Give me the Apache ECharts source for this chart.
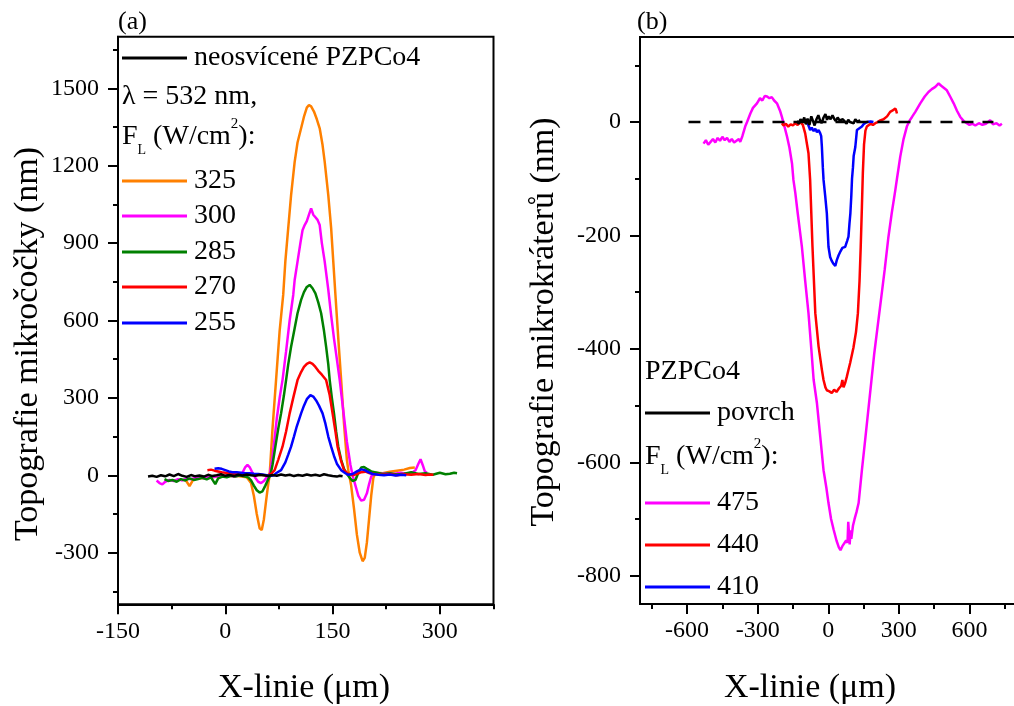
<!DOCTYPE html>
<html>
<head>
<meta charset="utf-8">
<script src="https://cdn.jsdelivr.net/npm/echarts@6/dist/echarts.min.js"></script>
<style>
  html, body { margin: 0; padding: 0; background: #fff; }
  #chart { width: 1014px; height: 706px; }
</style>
</head>
<body>
<div id="chart"></div>
<script>
// ---------- panel (a): microlens topography, x in µm, height in nm ----------
const aLegendLabels = ['325', '300', '285', '270', '255'];
const aColors = ['#FF8000', '#FF00FF', '#008000', '#FF0000', '#0000FF'];

const aUnexposed = [[-108,-5],[-102,-2],[-96,-6],[-90,0],[-84,-4],[-78,3],[-72,-3],[-66,5],[-60,-2],[-54,-6],[-48,1],[-42,-4],[-36,-1],[-30,-5],[-24,2],[-18,-3],[-12,0],[-6,4],[0,-2],[6,1],[12,-3],[18,2],[24,-1],[30,3],[36,0],[42,-2],[48,2],[54,0],[60,-3],[66,1],[72,-2],[78,3],[84,-1],[90,2],[96,-3],[102,1],[108,-2],[114,3],[120,-1],[126,2],[132,-2],[138,4],[144,0],[150,-3],[156,-5],[160,-2],[164,-4]];

const a325 = [[-55,-20],[-50,-42],[-45,-18],[-40,-12],[-30,-10],[-20,-8],[-10,-5],[0,-3],[10,-2],[20,-4],[30,-8],[36,-30],[40,-80],[44,-150],[48,-205],[51,-212],[54,-170],[57,-100],[60,-35],[62,0],[66,180],[71,370],[76,560],[81,700],[84,830],[88,958],[92,1086],[97,1215],[101,1290],[106,1345],[110,1390],[114,1425],[117,1435],[120,1430],[124,1410],[128,1380],[132,1345],[136,1280],[139,1215],[144,1086],[148,958],[151,828],[154,699],[158,530],[162,369],[166,200],[170,60],[172,20],[176,-40],[180,-130],[184,-230],[188,-300],[192,-333],[195,-320],[198,-260],[201,-170],[204,-80],[207,-10],[210,10],[220,8],[230,14],[240,18],[250,22],[258,28],[265,30]];

const a300 = [[-96,-20],[-92,-30],[-88,-35],[-84,-25],[-78,-18],[-72,-22],[-66,-15],[-60,-20],[-54,-12],[-48,-15],[-42,-10],[-36,-8],[-30,-12],[-24,-5],[-18,-8],[-12,-4],[-6,-6],[0,-3],[6,0],[12,-5],[18,-2],[24,10],[28,32],[31,40],[34,32],[38,10],[42,-10],[46,-25],[50,-30],[54,-22],[58,-8],[62,0],[66,70],[72,220],[76,300],[80,369],[85,480],[90,600],[95,699],[97,757],[101,828],[105,900],[108,950],[111,970],[114,985],[117,1010],[120,1035],[123,1010],[126,1000],[129,990],[132,970],[135,900],[139,828],[144,720],[148,620],[152,530],[156,450],[160,369],[165,250],[170,130],[175,40],[178,0],[182,-40],[186,-80],[190,-98],[194,-95],[198,-70],[201,-35],[204,-5],[208,8],[215,5],[225,8],[235,5],[245,10],[255,6],[262,12],[266,20],[270,45],[273,62],[276,40],[279,15],[282,10]];

const a285 = [[-85,-15],[-80,-22],[-74,-18],[-68,-25],[-62,-15],[-56,-20],[-50,-12],[-44,-18],[-38,-14],[-32,-10],[-26,-16],[-20,-8],[-14,-34],[-10,-12],[-4,-5],[2,-8],[8,-2],[14,-5],[20,0],[26,-4],[32,-8],[36,-20],[40,-40],[44,-58],[48,-67],[52,-62],[56,-40],[60,-15],[63,0],[66,40],[70,111],[74,180],[78,240],[82,310],[85,369],[88,430],[92,498],[97,570],[101,628],[106,680],[110,710],[114,730],[118,738],[122,725],[126,705],[130,670],[134,628],[138,560],[141,498],[144,430],[146,369],[149,300],[152,240],[155,170],[158,111],[162,60],[166,25],[170,5],[174,-10],[178,-22],[182,-18],[186,10],[190,30],[194,32],[198,25],[204,15],[212,10],[220,5],[230,8],[240,3],[250,6],[260,12],[270,5],[280,8],[290,2],[300,10],[308,4],[314,6],[320,10],[324,8]];

const a270 = [[-25,20],[-20,22],[-15,18],[-10,15],[-5,12],[0,10],[6,8],[12,6],[18,5],[24,4],[30,3],[36,2],[42,0],[48,2],[54,0],[60,1],[64,5],[69,20],[74,60],[80,111],[85,170],[90,240],[95,300],[101,369],[106,400],[110,420],[114,432],[118,438],[122,432],[126,420],[130,405],[135,390],[141,369],[146,310],[150,240],[154,170],[157,111],[162,55],[166,20],[172,5],[178,0],[184,5],[190,12],[196,14],[202,8],[210,4],[220,2],[230,5],[240,0],[250,4],[260,2],[270,5],[280,1],[286,3],[291,2]];

const a255 = [[-15,25],[-10,27],[-5,25],[0,20],[5,15],[10,12],[16,12],[22,10],[28,8],[34,8],[40,6],[46,5],[52,3],[58,0],[64,-2],[68,0],[72,10],[78,20],[84,50],[88,80],[92,111],[96,150],[100,190],[106,240],[110,270],[114,295],[119,311],[123,305],[127,290],[131,270],[136,240],[140,200],[144,150],[148,111],[152,75],[156,45],[162,20],[168,8],[172,2],[178,5],[184,15],[190,23],[195,20],[200,12],[206,5],[214,2],[222,0],[230,3],[238,-1],[246,2],[253,0]];

const aXLabels = [-150, 0, 150, 300];
const aXMinor = [-75, 75, 225, 375];
const aYLabels = [-300, 0, 300, 600, 900, 1200, 1500];
const aYMinor = [-450, -150, 150, 450, 750, 1050, 1350, 1650];

// ---------- panel (b): microcrater topography ----------
const bLegendLabels = ['475', '440', '410'];
const bColors = ['#FF00FF', '#FF0000', '#0000FF'];

const bSurface = [[-133,2],[-125,-3],[-118,5],[-110,0],[-102,8],[-95,-4],[-88,6],[-80,-5],[-72,10],[-65,2],[-58,-6],[-50,5],[-42,12],[-35,3],[-28,-2],[-20,8],[-12,14],[-5,4],[2,10],[10,5],[18,12],[25,6],[32,2],[40,8],[48,3],[55,0],[62,5],[70,2],[78,-3],[85,4],[92,0],[100,3],[108,-2],[115,5],[122,1],[130,-1],[136,3]];

const b475 = [[-530,-38],[-520,-32],[-510,-40],[-500,-35],[-490,-30],[-480,-36],[-470,-28],[-460,-33],[-450,-26],[-440,-32],[-430,-28],[-420,-35],[-410,-30],[-400,-36],[-390,-33],[-380,-30],[-374,-35],[-365,-25],[-353,-8],[-345,0],[-331,15],[-320,25],[-303,33],[-290,42],[-280,38],[-270,46],[-260,45],[-250,42],[-240,44],[-230,38],[-218,33],[-205,20],[-197,9],[-186,-8],[-175,-26],[-165,-45],[-154,-73],[-148,-102],[-140,-125],[-130,-160],[-112,-220],[-98,-280],[-84,-337],[-72,-400],[-62,-455],[-48,-496],[-34,-555],[-20,-614],[-8,-645],[1,-672],[12,-700],[23,-719],[35,-738],[45,-750],[52,-755],[60,-748],[68,-750],[76,-738],[82,-742],[85,-705],[88,-702],[91,-745],[95,-720],[98,-735],[105,-712],[112,-700],[120,-688],[129,-672],[143,-614],[157,-560],[171,-505],[185,-450],[195,-410],[210,-360],[225,-310],[240,-260],[255,-205],[270,-160],[285,-120],[292,-100],[300,-78],[306,-61],[320,-30],[334,-8],[345,2],[356,9],[370,18],[391,33],[410,45],[426,53],[440,58],[455,62],[469,68],[480,64],[492,60],[504,56],[518,45],[533,33],[547,20],[561,9],[575,2],[589,-2],[600,-5],[612,-3],[625,-6],[640,-2],[655,-5],[670,-3],[688,3],[700,-4],[715,-2],[728,-6],[738,-3]];

const b440 = [[-197,-2],[-190,-6],[-180,-3],[-170,-8],[-160,-4],[-150,-6],[-140,-2],[-130,-5],[-119,0],[-108,-5],[-98,-20],[-90,-40],[-84,-55],[-77,-102],[-67,-220],[-55,-337],[-41,-396],[-27,-437],[-20,-455],[-12,-468],[-6,-473],[5,-475],[15,-478],[25,-472],[35,-476],[45,-470],[55,-465],[60,-455],[65,-468],[72,-460],[79,-449],[86,-437],[93,-425],[107,-398],[118,-370],[126,-337],[133,-280],[138,-220],[143,-150],[147,-90],[152,-40],[158,-15],[164,-8],[172,-6],[180,-3],[190,-5],[200,-2],[210,0],[221,3],[235,5],[250,10],[263,18],[272,20],[280,22],[285,24],[289,20],[292,15]];

const b410 = [[-90,0],[-84,-6],[-77,-14],[-70,-10],[-62,-16],[-55,-12],[-48,-18],[-41,-14],[-34,-20],[-30,-25],[-27,-44],[-23,-80],[-20,-102],[-13,-130],[-6,-161],[1,-220],[8,-238],[15,-245],[22,-250],[30,-254],[36,-244],[44,-235],[52,-228],[60,-222],[66,-225],[72,-220],[80,-210],[86,-202],[90,-180],[94,-161],[98,-130],[101,-100],[105,-80],[108,-60],[115,-44],[122,-14],[130,-12],[143,-8],[150,-4],[157,-6],[164,0],[172,-2],[180,1],[186,-1],[192,0]];

const bZeroLine = [[-594, 0], [702, 0]];

const bXLabels = [-600, -300, 0, 300, 600];
const bXMinor = [-750, -450, -150, 150, 450, 750];
const bYLabels = [-800, -600, -400, -200, 0];
const bYMinor = [-700, -500, -300, -100, 100];

// ---------- chart ----------
const FONT = '"Liberation Serif", "Times New Roman", serif';
const chart = echarts.init(document.getElementById('chart'), null, { renderer: 'canvas' });

function mainAxis(dim, gridIndex, min, max, labels, position) {
  return {
    type: 'value', gridIndex, min, max, position,
    axisLine: { show: true, onZero: false, lineStyle: { color: '#000', width: 2 } },
    axisTick: { show: true, inside: false, length: 10, customValues: labels, lineStyle: { color: '#000', width: 2 } },
    minorTick: { show: false },
    axisLabel: {
      show: true, customValues: labels, margin: dim === 'x' ? 15 : 19,
      color: '#000', fontFamily: FONT, fontSize: 24,
      formatter: v => String(v)
    },
    splitLine: { show: false }
  };
}
function minorAxis(gridIndex, min, max, values, position) {
  return {
    type: 'value', gridIndex, min, max, position,
    axisLine: { show: false, onZero: false },
    axisTick: { show: true, inside: false, length: 5, customValues: values, lineStyle: { color: '#000', width: 2 } },
    axisLabel: { show: false },
    splitLine: { show: false }
  };
}
function line(data, color, xi, yi, extra) {
  return Object.assign({
    type: 'line', data, xAxisIndex: xi, yAxisIndex: yi,
    showSymbol: false, symbol: 'none', silent: true,
    lineStyle: { color, width: 2.5 }
  }, extra || {});
}

const graphics = [];
function txt(x, y, text, size, extra) {
  graphics.push(Object.assign({
    type: 'text', x, y,
    style: { text, fill: '#000', font: size + 'px ' + FONT, textAlign: 'left', textVerticalAlign: 'middle' }
  }, extra || {}));
}
function sample(x1, x2, y, color) {
  graphics.push({ type: 'line', shape: { x1, y1: y, x2, y2: y }, style: { stroke: color, lineWidth: 2.8 } });
}
function fluenceHeading(x, y) {
  graphics.push({
    type: 'text', x, y,
    style: {
      text: '{m|F}{s|L}{m| (W/cm}{p|2}{m|):}',
      textAlign: 'left', textVerticalAlign: 'middle',
      rich: {
        m: { fontFamily: FONT, fontSize: 28, lineHeight: 40, fill: '#000', verticalAlign: 'middle' },
        s: { fontFamily: FONT, fontSize: 14, lineHeight: 14, fill: '#000', verticalAlign: 'bottom' },
        p: { fontFamily: FONT, fontSize: 15, lineHeight: 19, fill: '#000', verticalAlign: 'top' }
      }
    }
  });
}
function centered(x, y, text, size, rotation) {
  graphics.push({
    type: 'text', x, y, rotation: rotation || 0,
    style: { text, fill: '#000', font: size + 'px ' + FONT, textAlign: 'center', textVerticalAlign: 'middle' }
  });
}

// panel letters
txt(118, 22, '(a)', 26);
txt(637, 22, '(b)', 26);

// axis titles
centered(28, 344, 'Topografie mikročočky (nm)', 34, Math.PI / 2);
centered(544, 322, 'Topografie mikrokráterů (nm)', 34, Math.PI / 2);
centered(304, 688, 'X-linie (μm)', 34);
centered(810, 688, 'X-linie (μm)', 34);

// legend of panel (a)
sample(122, 187, 58, '#000');
txt(194, 58, 'neosvícené PZPCo4', 28);
txt(122, 97, 'λ = 532 nm,', 28);
fluenceHeading(122, 137);
const aRows = [181, 216, 252, 287, 323];
aLegendLabels.forEach((lab, i) => { sample(122, 187, aRows[i], aColors[i]); txt(194, aRows[i], lab, 28); });

// legend of panel (b)
txt(645, 372, 'PZPCo4', 28);
sample(645, 710, 413, '#000');
txt(717, 413, 'povrch', 28);
fluenceHeading(645, 457);
const bRows = [503, 545, 587];
bLegendLabels.forEach((lab, i) => { sample(645, 710, bRows[i], bColors[i]); txt(717, bRows[i], lab, 28); });

const option = {
  animation: false,
  backgroundColor: '#fff',
  grid: [
    { left: 118, top: 36.7, width: 375.5, height: 567.6, show: true, borderColor: '#000', borderWidth: 2, outerBoundsMode: 'none', containLabel: false },
    { left: 640, top: 37, width: 376.5, height: 567, show: true, borderColor: '#000', borderWidth: 2, outerBoundsMode: 'none', containLabel: false }
  ],
  xAxis: [
    mainAxis('x', 0, -150, 375, aXLabels, 'bottom'),
    minorAxis(0, -150, 375, aXMinor, 'bottom'),
    mainAxis('x', 1, -800, 800, bXLabels, 'bottom'),
    minorAxis(1, -800, 800, bXMinor, 'bottom')
  ],
  yAxis: [
    mainAxis('y', 0, -500, 1700, aYLabels, 'left'),
    minorAxis(0, -500, 1700, aYMinor, 'left'),
    mainAxis('y', 1, -850, 150, bYLabels, 'left'),
    minorAxis(1, -850, 150, bYMinor, 'left')
  ],
  series: [
    line(a325, aColors[0], 0, 0),
    line(a300, aColors[1], 0, 0),
    line(a285, aColors[2], 0, 0),
    line(a270, aColors[3], 0, 0),
    line(a255, aColors[4], 0, 0),
    line(aUnexposed, '#000', 0, 0),
    line(b475, bColors[0], 2, 2),
    line(b440, bColors[1], 2, 2),
    line(b410, bColors[2], 2, 2),
    line(bSurface, '#000', 2, 2),
    line(bZeroLine, '#000', 2, 2, { lineStyle: { color: '#000', width: 2.5, type: [12, 9] } })
  ],
  graphic: graphics
};
chart.setOption(option);
</script>
</body>
</html>
